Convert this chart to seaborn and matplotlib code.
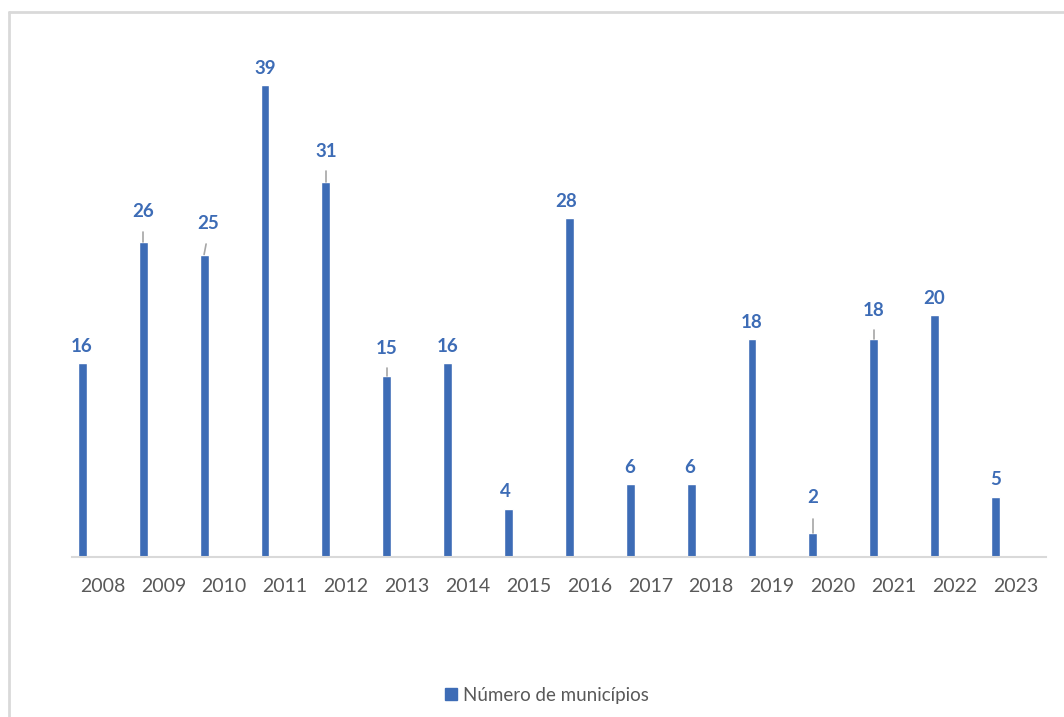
import matplotlib.pyplot as plt
import matplotlib.lines as mlines
import numpy as np
import pandas as pd
import seaborn as sns

# Data
years = ['2008', '2009', '2010', '2011', '2012', '2013', '2014', '2015',
         '2016', '2017', '2018', '2019', '2020', '2021', '2022', '2023']
municipios = [16, 26, 25, 39, 31, 15, 16, 4, 28, 6, 6, 18, 2, 18, 20, 5]

df = pd.DataFrame({'Ano': years, 'Municipios': municipios})

sns.set_style('white')
plt.rcParams['font.family'] = ['Lato', 'DejaVu Sans']

bar_color = '#3d6cb6'
text_grey = '#595959'

fig = plt.figure(figsize=(10.64, 7.17), dpi=100)
ax = fig.add_axes([72 / 1064, 1 - 557 / 717, 974 / 1064, (557 - 12.5) / 717])

sns.barplot(data=df, x='Ano', y='Municipios', color=bar_color,
            width=0.145, ax=ax, saturation=1)

# Excel-style clustered offset: bars sit left of the category centre
for p in ax.patches:
    p.set_x(p.get_x() - 0.33)

ax.set_ylim(0, 45)
ax.set_xlim(-0.5, len(years) - 0.5)
ax.set_xlabel('')
ax.set_ylabel('')
ax.set_yticks([])
ax.tick_params(axis='x', length=0, pad=15, labelsize=14, labelcolor=text_grey)
for side in ['top', 'right', 'left']:
    ax.spines[side].set_visible(False)
ax.spines['bottom'].set_color('#d9d9d9')
ax.spines['bottom'].set_linewidth(1.5)

# Data labels (some moved up with leader lines, like the original)
label_lift = [0, 14, 14, 0, 14, 10, 0, 0, 0, 0, 0, 0, 18, 12, 0, 0]
label_dx = [-1, 0, 4, 0, 0, 0, 0, -3, -3, -1, -1, 0, 0, 0, 0, 0]
for i, v in enumerate(municipios):
    x = i - 0.33
    lift = label_lift[i] / 12.1
    if label_lift[i] > 0:
        ax.plot([x, x + label_dx[i] / 60.9 * 0.5], [v, v + lift * 0.75],
                color='#a6a6a6', lw=1.2, zorder=1)
    ax.annotate(str(v), (x + label_dx[i] / 60.9, v + lift),
                xytext=(0, 6), textcoords='offset points',
                ha='center', va='bottom', fontsize=13.5, fontweight='bold',
                color=bar_color)

# Legend
handle = mlines.Line2D([], [], marker='s', linestyle='none', color=bar_color,
                       markersize=8)
fig.legend([handle], ['Número de municípios'], loc='center',
           bbox_to_anchor=(545 / 1064, 1 - 695 / 717), frameon=False,
           fontsize=13.5, labelcolor=text_grey, handletextpad=0.15,
           handlelength=1.0)

# Chart-area border (top and left edges visible in the crop)
fig.add_artist(mlines.Line2D([9 / 1064, 1], [1 - 12 / 717, 1 - 12 / 717],
                             color='#d9d9d9', lw=2))
fig.add_artist(mlines.Line2D([9 / 1064, 9 / 1064], [0, 1 - 12 / 717],
                             color='#d9d9d9', lw=2))

plt.savefig('out.png', dpi=100)
